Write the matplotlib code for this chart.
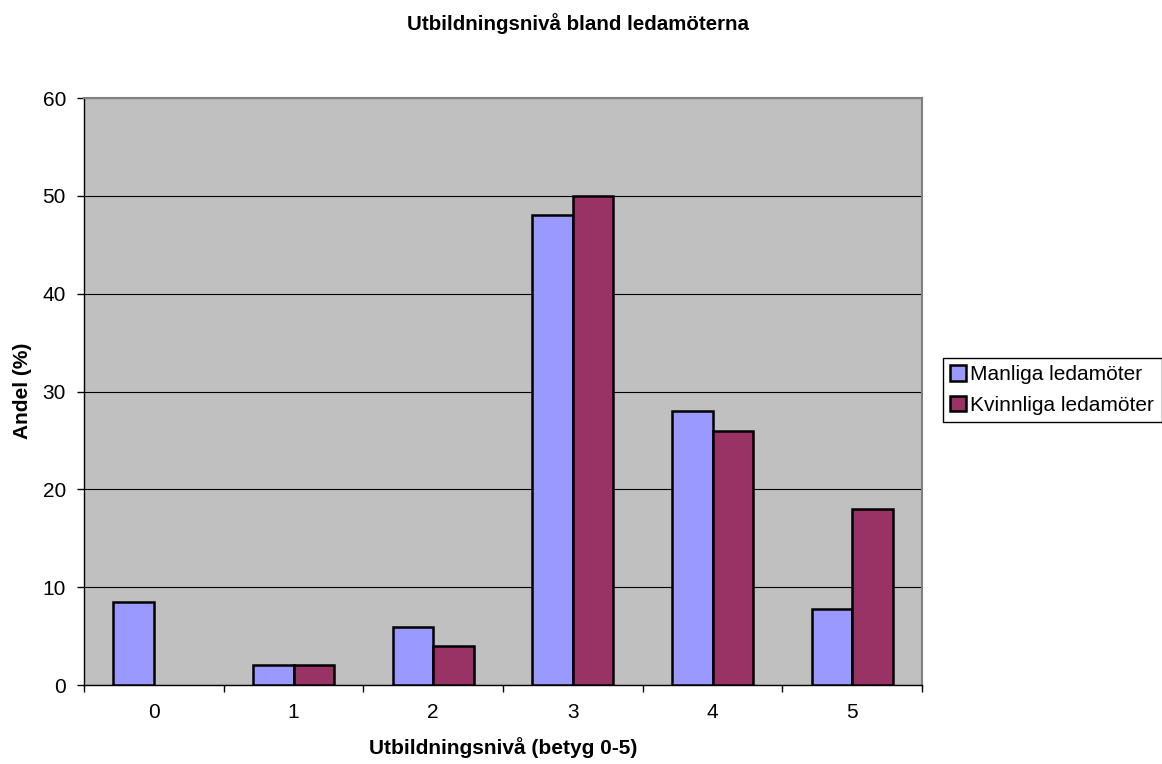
import numpy as np
import matplotlib.pyplot as plt

plt.rcParams['font.family'] = ['Liberation Sans', 'DejaVu Sans']

# Andel ledamöter per utbildningsnivå
nivaer = ['0', '1', '2', '3', '4', '5']
manliga = [8.5, 2, 5.9, 48, 28, 7.8]
kvinnliga = [0, 2, 4, 50, 26, 18]

fig = plt.figure(figsize=(11.62, 7.64), dpi=100)
ax = fig.add_axes([0.0723, 0.1034, 0.7212, 0.7683])
ax.set_facecolor('#C0C0C0')

x = np.arange(len(nivaer))
w = 0.29
# staplar med värdet 0 ritas utan kantlinje
lw_m = [1.8 if v > 0 else 0 for v in manliga]
lw_k = [1.8 if v > 0 else 0 for v in kvinnliga]
ax.bar(x - w / 2, manliga, w, color='#9999FF', edgecolor='black', linewidth=lw_m,
       label='Manliga ledamöter', zorder=3)
ax.bar(x + w / 2, kvinnliga, w, color='#993366', edgecolor='black', linewidth=lw_k,
       label='Kvinnliga ledamöter', zorder=3)

ax.set_xlim(-0.5, len(nivaer) - 0.5)
ax.set_ylim(0, 60)
ax.set_yticks(np.arange(0, 61, 10))
ax.yaxis.grid(True, color='black', linewidth=0.8, zorder=1)

# kategorietiketter i mitten, streck mellan grupperna
ax.set_xticks(x)
ax.set_xticklabels(nivaer)
ax.tick_params(axis='x', which='major', length=0, pad=13)
ax.set_xticks(np.arange(-0.5, len(nivaer)), minor=True)
ax.tick_params(axis='x', which='minor', length=5, width=1, direction='out')
ax.tick_params(axis='y', length=5, width=1, direction='out', pad=8)
ax.tick_params(labelsize=15)

for side in ['top', 'right']:
    ax.spines[side].set_color('#808080')
    ax.spines[side].set_linewidth(1.5)
for side in ['left', 'bottom']:
    ax.spines[side].set_color('black')
    ax.spines[side].set_linewidth(1)

fig.text(0.497, 1 - 24 / 764, 'Utbildningsnivå bland ledamöterna', fontsize=14.8,
         fontweight='bold', ha='center', va='center')
fig.text(503 / 1162, 1 - 748 / 764, 'Utbildningsnivå (betyg 0-5)', fontsize=15,
         fontweight='bold', ha='center', va='center')
fig.text(23 / 1162, 1 - 391 / 764, 'Andel (%)', fontsize=15, fontweight='bold',
         rotation=90, ha='center', va='center')

leg = fig.legend(loc='upper left', bbox_to_anchor=(943 / 1162, 1 - 358 / 764), fontsize=15,
                 frameon=True, fancybox=False, edgecolor='black', framealpha=1,
                 handlelength=0.77, handleheight=0.77, handletextpad=0.2,
                 borderpad=0.35, borderaxespad=0, labelspacing=0.55)
leg.get_frame().set_linewidth(1)
for h in leg.legend_handles:
    h.set_linewidth(1.8)
    h.set_edgecolor('black')

fig.savefig('out.png', dpi=100)
